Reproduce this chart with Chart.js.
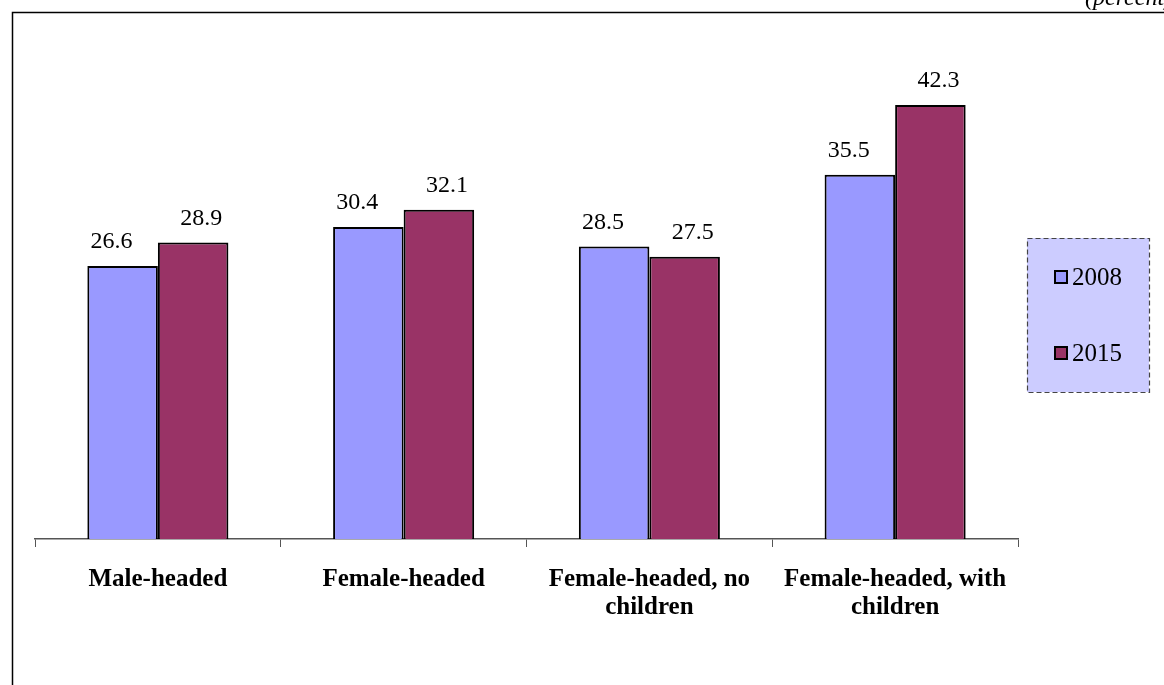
<!DOCTYPE html>
<html lang="en">
<head>
    <meta charset="UTF-8">
    <title>Poverty rate by household head</title>
    <script src="https://cdn.jsdelivr.net/npm/chart.js"></script>
    <style>
        body { margin: 0; background: #fff; }
        #wrap { width: 1164px; height: 685px; position: relative; }
    </style>
</head>
<body>
    <div id="wrap"><canvas id="povChart" width="1164" height="685"></canvas></div>

    <script>
        const categories = [
            'Male-headed',
            'Female-headed',
            ['Female-headed, no', 'children'],
            ['Female-headed, with', 'children']
        ];
        const seriesNames = ['2008', '2015'];
        const values2008 = [26.6, 30.4, 28.5, 35.5];
        const values2015 = [28.9, 32.1, 27.5, 42.3];
        const seriesColors = ['#9999ff', '#993366'];

        const serif = '"Liberation Serif", "Times New Roman", serif';
        // value labels sit a little off-centre, as in the original
        const labelShift = [-11, 8];

        // frame, unit note, value labels and legend box
        const decorations = {
            id: 'decorations',
            afterDatasetsDraw(chart) {
                const ctx = chart.ctx;
                ctx.save();
                ctx.fillStyle = '#000';
                ctx.font = '24px ' + serif;
                ctx.textAlign = 'center';
                ctx.textBaseline = 'middle';
                chart.data.datasets.forEach((ds, i) => {
                    chart.getDatasetMeta(i).data.forEach((bar, j) => {
                        ctx.fillText(ds.data[j].toFixed(1), bar.x + labelShift[i], bar.y - 24);
                    });
                });
                ctx.restore();
            },
            afterDraw(chart) {
                const ctx = chart.ctx;
                ctx.save();
                // outer frame
                ctx.strokeStyle = '#000';
                ctx.lineWidth = 1.5;
                ctx.beginPath();
                ctx.moveTo(12.5, 685);
                ctx.lineTo(12.5, 12.5);
                ctx.lineTo(1164, 12.5);
                ctx.stroke();

                ctx.fillStyle = '#000';
                ctx.font = 'italic 24px ' + serif;
                ctx.textAlign = 'left';
                ctx.textBaseline = 'alphabetic';
                ctx.fillText('(percent)', 1085, 5);

                // legend box
                ctx.fillStyle = '#ccccff';
                ctx.fillRect(1027, 238, 122, 154);
                ctx.setLineDash([5, 3]);
                ctx.strokeStyle = '#444';
                ctx.lineWidth = 1.2;
                ctx.strokeRect(1027.5, 238.5, 122, 154);
                ctx.setLineDash([]);
                const rows = [277, 353];
                ctx.font = '25px ' + serif;
                ctx.textBaseline = 'middle';
                seriesNames.forEach((name, i) => {
                    ctx.fillStyle = seriesColors[i];
                    ctx.fillRect(1055, rows[i] - 6, 12, 12);
                    ctx.strokeStyle = '#000';
                    ctx.lineWidth = 2;
                    ctx.strokeRect(1055, rows[i] - 6, 12, 12);
                    ctx.fillStyle = '#000';
                    ctx.fillText(name, 1072, rows[i] + 1);
                });
                ctx.restore();
            }
        };

        new Chart(document.getElementById('povChart'), {
            type: 'bar',
            data: {
                labels: categories,
                datasets: [
                    { label: seriesNames[0], data: values2008, backgroundColor: seriesColors[0] },
                    { label: seriesNames[1], data: values2015, backgroundColor: seriesColors[1] }
                ]
            },
            options: {
                responsive: false,
                animation: false,
                layout: { padding: { left: 35, right: 146, top: 26, bottom: 0 } },
                datasets: {
                    bar: {
                        borderColor: '#000',
                        borderWidth: 2,
                        categoryPercentage: 0.574,
                        barPercentage: 1.0
                    }
                },
                scales: {
                    x: {
                        afterFit: (scale) => { scale.height = 685 - 539; },
                        grid: {
                            offset: true,
                            drawOnChartArea: false,
                            drawTicks: true,
                            tickLength: 8,
                            color: '#555'
                        },
                        border: { display: true, color: '#555', width: 1.5 },
                        ticks: {
                            color: '#000',
                            padding: 19,
                            font: { family: serif, size: 25, weight: 'bold', lineHeight: 1.12 }
                        }
                    },
                    y: {
                        display: false,
                        min: 0,
                        max: 50
                    }
                },
                plugins: {
                    legend: { display: false },
                    tooltip: { enabled: false }
                }
            },
            plugins: [decorations]
        });
    </script>
</body>
</html>
